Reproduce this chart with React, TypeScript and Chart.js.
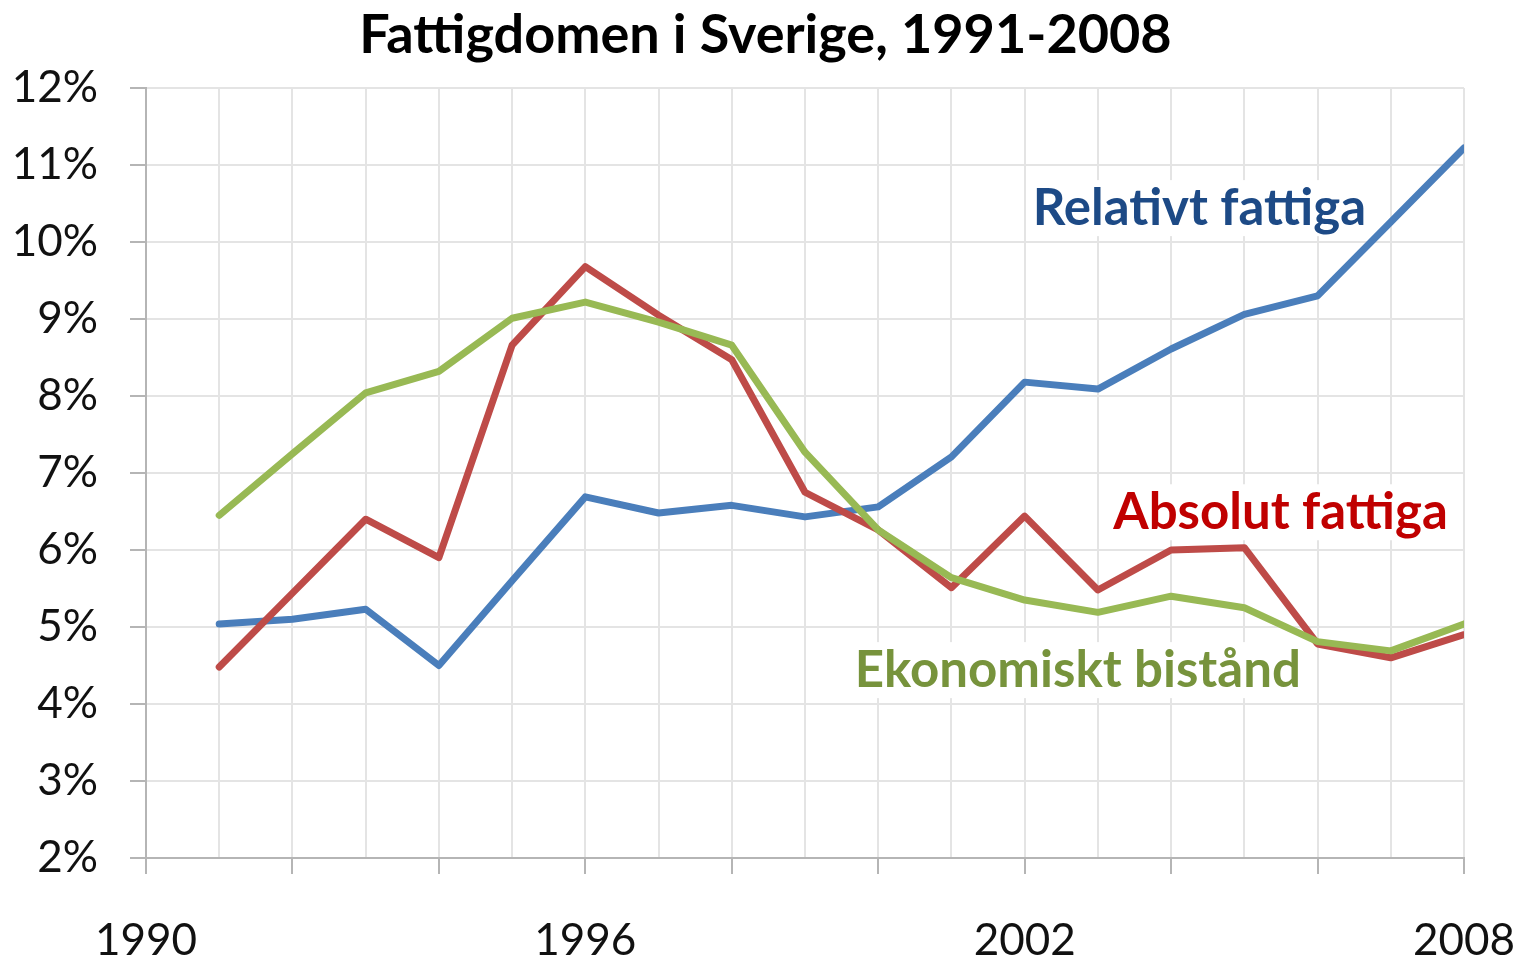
import React, { useEffect, useRef } from 'react';
import { Chart, registerables } from 'chart.js';

Chart.register(...registerables);

// ---- Data ----
const years = [1991, 1992, 1993, 1994, 1995, 1996, 1997, 1998, 1999, 2000, 2001, 2002, 2003, 2004, 2005, 2006, 2007, 2008];
const relativtFattiga = [5.04, 5.10, 5.23, 4.50, 5.60, 6.69, 6.48, 6.58, 6.43, 6.56, 7.21, 8.18, 8.09, 8.61, 9.06, 9.30, 10.26, 11.22];
const absolutFattiga = [4.48, 5.44, 6.40, 5.90, 8.66, 9.68, 9.05, 8.47, 6.75, 6.26, 5.51, 6.44, 5.48, 6.00, 6.03, 4.78, 4.60, 4.90];
const ekonomisktBistand = [6.45, 7.25, 8.04, 8.32, 9.01, 9.22, 8.96, 8.66, 7.27, 6.26, 5.64, 5.35, 5.19, 5.40, 5.25, 4.81, 4.69, 5.04];
const xTickLabels = [1990, 1996, 2002, 2008];
const seriesNames = ['Relativt fattiga', 'Absolut fattiga', 'Ekonomiskt bistånd'];
const titleText = 'Fattigdomen i Sverige, 1991-2008';

// ---- Styles / label placement (data coordinates) ----
const lineColors = ['#4a7ebb', '#be4b48', '#98b954'];
const labelColors = ['#1d4a86', '#c00000', '#77933c'];
const labelAnchors = [
  { x: 2002.11, y: 10.44 },
  { x: 2003.21, y: 6.49 },
  { x: 1999.68, y: 4.44 },
];
const FONT = 'Lato, "Open Sans", sans-serif';

const titlePlugin = {
  id: 'customTitle',
  afterDraw(chart: any) {
    const { ctx } = chart;
    ctx.save();
    ctx.font = `bold 54px ${FONT}`;
    ctx.fillStyle = '#000';
    ctx.textAlign = 'center';
    ctx.textBaseline = 'middle';
    ctx.fillText(titleText, chart.width / 2 + 7, 36);
    ctx.restore();
  },
};

const seriesLabelPlugin = {
  id: 'seriesLabels',
  beforeDatasetsDraw(chart: any) {
    const { ctx, scales } = chart;
    const xs = scales.x;
    const ys = scales.y;
    seriesNames.forEach((name, i) => {
      const px = xs.getPixelForValue(labelAnchors[i].x);
      const py = ys.getPixelForValue(labelAnchors[i].y);
      ctx.save();
      ctx.font = `bold 51px ${FONT}`;
      const w = ctx.measureText(name).width;
      ctx.fillStyle = '#ffffff';
      ctx.fillRect(px - 4, py - 28, w + 8, 56);
      ctx.fillStyle = labelColors[i];
      ctx.textBaseline = 'middle';
      ctx.textAlign = 'left';
      ctx.fillText(name, px, py);
      ctx.restore();
    });
  },
};

export default function App() {
  const canvasRef = useRef<HTMLCanvasElement | null>(null);

  useEffect(() => {
    document.body.style.margin = '0';
    const canvas = canvasRef.current;
    if (!canvas) return;
    const series = [relativtFattiga, absolutFattiga, ekonomisktBistand];
    const datasets = series.map((vals, i) => ({
      label: seriesNames[i],
      data: vals.map((v, j) => ({ x: years[j], y: v })),
      borderColor: lineColors[i],
      backgroundColor: lineColors[i],
      borderWidth: 7,
      pointRadius: 0,
      tension: 0,
      fill: false,
      borderJoinStyle: 'round' as const,
      borderCapStyle: 'round' as const,
      order: 3 - i,
    }));

    const chart = new Chart(canvas, {
      type: 'line',
      data: { datasets },
      plugins: [seriesLabelPlugin, titlePlugin],
      options: {
        animation: false,
        responsive: false,
        devicePixelRatio: 1,
        layout: { padding: { left: 0, right: 53, top: 88, bottom: 0 } },
        plugins: {
          legend: { display: false },
          tooltip: { enabled: false },
          title: { display: false },
        },
        scales: {
          x: {
            type: 'linear',
            min: 1990,
            max: 2008,
            afterFit: (s: any) => {
              s.height = 97;
              s.paddingLeft = 0;
              s.paddingRight = 0;
            },
            ticks: {
              stepSize: 1,
              autoSkip: false,
              maxRotation: 0,
              padding: 40,
              color: '#111',
              font: { family: FONT, size: 44 },
              callback: (v: any) => (xTickLabels.includes(Number(v)) ? String(v) : ''),
            },
            grid: {
              color: '#e4e4e4',
              lineWidth: 2,
              tickLength: 16,
              tickColor: (c: any) => (c.tick && Number(c.tick.value) % 2 === 0 ? '#b5b5b5' : 'rgba(0,0,0,0)'),
            },
            border: { color: '#b5b5b5', width: 2 },
          },
          y: {
            min: 2,
            max: 12,
            afterFit: (s: any) => {
              s.width = 146;
              s.paddingTop = 0;
              s.paddingBottom = 0;
            },
            ticks: {
              stepSize: 1,
              padding: 32,
              color: '#111',
              font: { family: FONT, size: 44 },
              callback: (v: any) => `${v}%`,
            },
            grid: {
              color: '#e4e4e4',
              lineWidth: 2,
              tickLength: 16,
              tickColor: '#b5b5b5',
            },
            border: { color: '#b5b5b5', width: 2 },
          },
        },
      },
    });
    return () => chart.destroy();
  }, []);

  return (
    <div style={{ width: 1517, height: 955, background: '#fff' }}>
      <canvas ref={canvasRef} width={1517} height={955} />
    </div>
  );
}
